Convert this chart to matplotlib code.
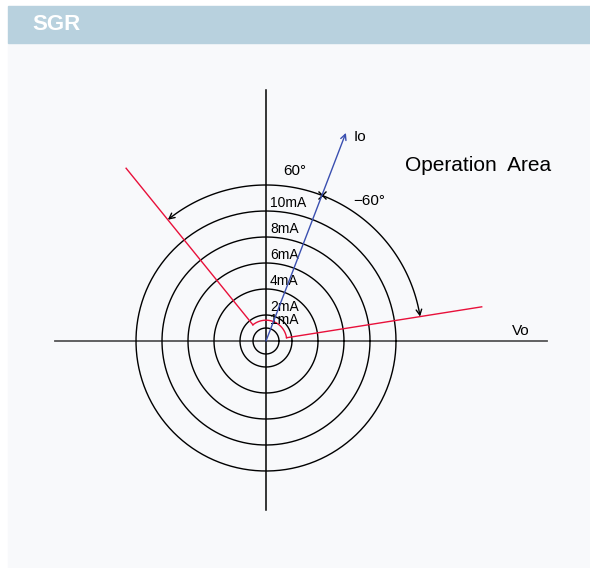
import matplotlib.pyplot as plt
import numpy as np
from matplotlib.patches import Rectangle, FancyArrowPatch
from matplotlib.path import Path

# --- data (radii in mA, angles in degrees) ---
ring_ma = [1, 2, 4, 6, 8, 10]
ring_labels = ["1mA", "2mA", "4mA", "6mA", "8mA", "10mA"]
io_angle = 69
io_length = 17.15
half_width = 60
sweep_radius = 12.0
inner_radius = 1.6
boundary_len = [16.8, 17.1]   # right, left
sweep_labels = ["60°", "\u221260°"]

plt.rcParams["font.family"] = ["Liberation Sans", "DejaVu Sans"]

W, H = 590, 568
cx, cy, px_per_ma = 266, 341, 13.0

fig = plt.figure(figsize=(W / 100, H / 100), dpi=100)
fig.patch.set_facecolor("white")

# panel + header
fig.patches.append(Rectangle((8 / W, 0), 1 - 8 / W, (H - 43) / H,
                             transform=fig.transFigure, color="#f8f9fb", zorder=-10))
fig.patches.append(Rectangle((8 / W, (H - 43) / H), 1 - 8 / W, 37 / H,
                             transform=fig.transFigure, color="#b8d1de", zorder=-10))
fig.text(32 / W, 1 - 25 / H, "SGR", color="white", fontsize=16, fontweight="bold",
         va="center", ha="left")

ax = fig.add_axes([0, 0, 1, 1])
ax.set_zorder(5)
ax.set_xlim(-cx / px_per_ma, (W - cx) / px_per_ma)
ax.set_ylim(-(H - cy) / px_per_ma, cy / px_per_ma)
ax.axis("off")
ax.patch.set_alpha(0)

def pol(r, a):
    return r * np.cos(np.radians(a)), r * np.sin(np.radians(a))

# axes lines
ax.plot([-16.2, 21.6], [0, 0], color="#555555", lw=1.3)
ax.plot([0, 0], [-13.0, 19.3], color="black", lw=1.1)

# rings and labels
t = np.linspace(0, 2 * np.pi, 400)
for r, lab in zip(ring_ma, ring_labels):
    ax.plot(r * np.cos(t), r * np.sin(t), color="black", lw=1.0)
    ax.text(0.3, r + 0.05, lab, fontsize=10, ha="left", va="bottom")

# operation boundary (red)
a_lo, a_hi = io_angle - half_width, io_angle + half_width
arc = np.linspace(np.radians(a_lo), np.radians(a_hi), 60)
ax.plot(inner_radius * np.cos(arc), inner_radius * np.sin(arc), color="#e8103a", lw=1.0)
for a, L in zip([a_lo, a_hi], boundary_len):
    x0, y0 = pol(inner_radius, a)
    x1, y1 = pol(L, a)
    ax.plot([x0, x1], [y0, y1], color="#e8103a", lw=1.0)

# Io arrow
ax.annotate("", xy=pol(io_length, io_angle), xytext=(0, 0),
            arrowprops=dict(arrowstyle="->", color="#3a4fb0", lw=1.0,
                            shrinkA=0, shrinkB=0))
ax.text(7.23, 15.69, "Io", fontsize=11, ha="center", va="center")

# sweep arcs with arrowheads
for end in [a_hi, a_lo]:
    th = np.radians(np.linspace(io_angle, end, 80))
    verts = np.column_stack([sweep_radius * np.cos(th), sweep_radius * np.sin(th)])
    ax.add_patch(FancyArrowPatch(path=Path(verts), arrowstyle="->", mutation_scale=10,
                                 color="black", lw=1.0))
ax.plot(*pol(sweep_radius, io_angle), marker="x", color="black", ms=6, mew=1.0)

ax.text(2.23, 13.08, sweep_labels[0], fontsize=11, ha="center", va="center")
ax.text(7.92, 10.77, sweep_labels[1], fontsize=11, ha="center", va="center")
ax.text(19.6, 0.77, "Vo", fontsize=11, ha="center", va="center")
ax.text(16.3, 13.5, "Operation  Area", fontsize=15, ha="center", va="center")

fig.savefig("out.png", dpi=100, facecolor=fig.get_facecolor())
